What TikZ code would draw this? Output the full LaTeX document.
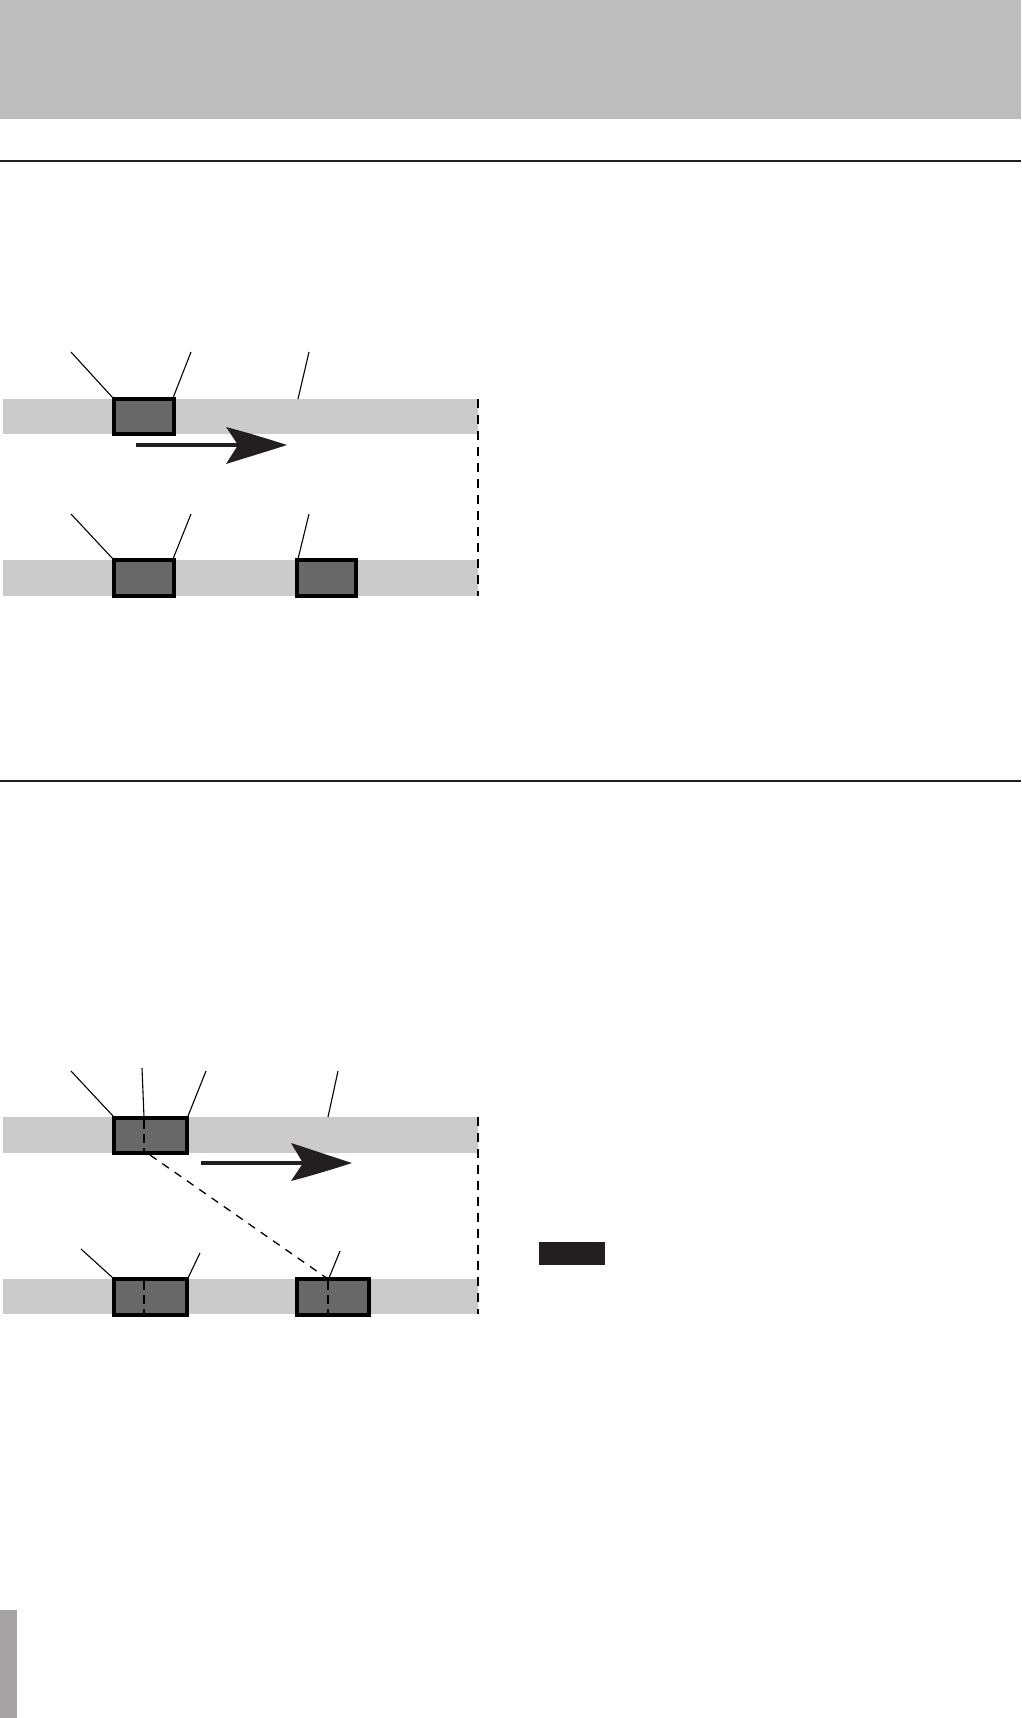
\documentclass[tikz,border=0pt]{standalone}
\usetikzlibrary{calc}
\definecolor{hdr}{HTML}{BDBDBD}
\definecolor{barc}{HTML}{CBCBCB}
\definecolor{boxc}{HTML}{686868}
\definecolor{ink}{HTML}{231F20}
\definecolor{tabc}{HTML}{A5A3A3}
\tikzset{
  track/.style={fill=barc,draw=none},
  clip box/.style={fill=boxc,draw=black,line width=3.8pt},
  leader/.style={draw=black,line width=1.1pt},
  rule/.style={draw=ink,line width=2pt},
  enddash/.style={draw=black,line width=2pt,dash pattern=on 9pt off 7pt},
  middash/.style={draw=black,line width=1.8pt,dash pattern=on 9pt off 5pt},
  diagdash/.style={draw=black,line width=1.3pt,dash pattern=on 8pt off 7pt},
  shaft/.style={draw=ink,line width=4pt},
  head/.style={fill=ink,draw=none}
}
\begin{document}
\begin{tikzpicture}[x=1pt,y=-1pt]
\useasboundingbox (0,0) rectangle (1021,1718);
% header band
\fill[hdr] (0,0) rectangle (1021,119);
% rules
\draw[rule] (0,161) -- (1021,161);
\draw[rule] (0,781) -- (1021,781);
% bottom tab
\fill[tabc] (0,1610) rectangle (17,1718);
% black tag
\fill[ink] (539,1242) rectangle (605,1265);

% ===== Diagram 1 =====
\fill[track] (3,399) rectangle (478,434);
\fill[track] (3,560) rectangle (478,596);
\coordinate (a1) at (478,399);
\coordinate (a2) at (478,596);
\draw[enddash] (a1) -- (a2);
\draw[clip box] (114,399) rectangle (174,434);
\draw[clip box] (114,560) rectangle (174,596);
\draw[clip box] (297,560) rectangle (356,596);
% leaders
\coordinate (l1a) at (71,352); \coordinate (l1b) at (113,398);
\coordinate (l2a) at (191,352); \coordinate (l2b) at (173,398);
\coordinate (l3a) at (309,352); \coordinate (l3b) at (298,399);
\coordinate (l4a) at (71,514); \coordinate (l4b) at (113,559);
\coordinate (l5a) at (191,514); \coordinate (l5b) at (173,559);
\coordinate (l6a) at (309,514); \coordinate (l6b) at (298,559);
\foreach \i in {1,...,6} {\draw[leader] (l\i a) -- (l\i b);}
% arrow
\coordinate (s1) at (136,445); \coordinate (t1) at (287,445);
\draw[shaft] (s1) -- ($(t1)+(-40,0)$);
\fill[head] (t1) .. controls (262,437) and (245,432) .. (226,427)
  -- (238,445) -- (226,464) .. controls (245,458) and (262,453) .. (t1) -- cycle;

% ===== Diagram 2 =====
\fill[track] (3,1117) rectangle (478,1153);
\fill[track] (3,1279) rectangle (478,1314);
\coordinate (b1) at (478,1117);
\coordinate (b2) at (478,1314);
\draw[enddash] (b1) -- (b2);
\draw[clip box] (114,1118) rectangle (187,1153);
\draw[clip box] (114,1279) rectangle (187,1315);
\draw[clip box] (297,1279) rectangle (369,1315);
\draw[middash] (144,1120) -- (144,1151);
\draw[middash] (144,1281) -- (144,1313);
\draw[middash] (328,1281) -- (328,1313);
% diagonal dashed
\coordinate (d1) at (150,1155); \coordinate (d2) at (328,1279);
\draw[diagdash] (d1) -- (d2);
% leaders
\coordinate (m1a) at (71,1071); \coordinate (m1b) at (113,1116);
\coordinate (m2a) at (142,1068); \coordinate (m2b) at (144,1117);
\coordinate (m3a) at (206,1071); \coordinate (m3b) at (188,1116);
\coordinate (m4a) at (338,1071); \coordinate (m4b) at (328,1117);
\coordinate (m5a) at (81,1249); \coordinate (m5b) at (113,1278);
\coordinate (m6a) at (200,1253); \coordinate (m6b) at (188,1278);
\coordinate (m7a) at (340,1251); \coordinate (m7b) at (329,1278);
\foreach \i in {1,...,7} {\draw[leader] (m\i a) -- (m\i b);}
% arrow
\coordinate (s2) at (201,1163); \coordinate (t2) at (352,1163);
\draw[shaft] (s2) -- ($(t2)+(-40,0)$);
\fill[head] (t2) .. controls (327,1155) and (310,1149) .. (291,1143)
  -- (303,1163) -- (291,1181) .. controls (310,1176) and (327,1171) .. (t2) -- cycle;
\end{tikzpicture}
\end{document}
